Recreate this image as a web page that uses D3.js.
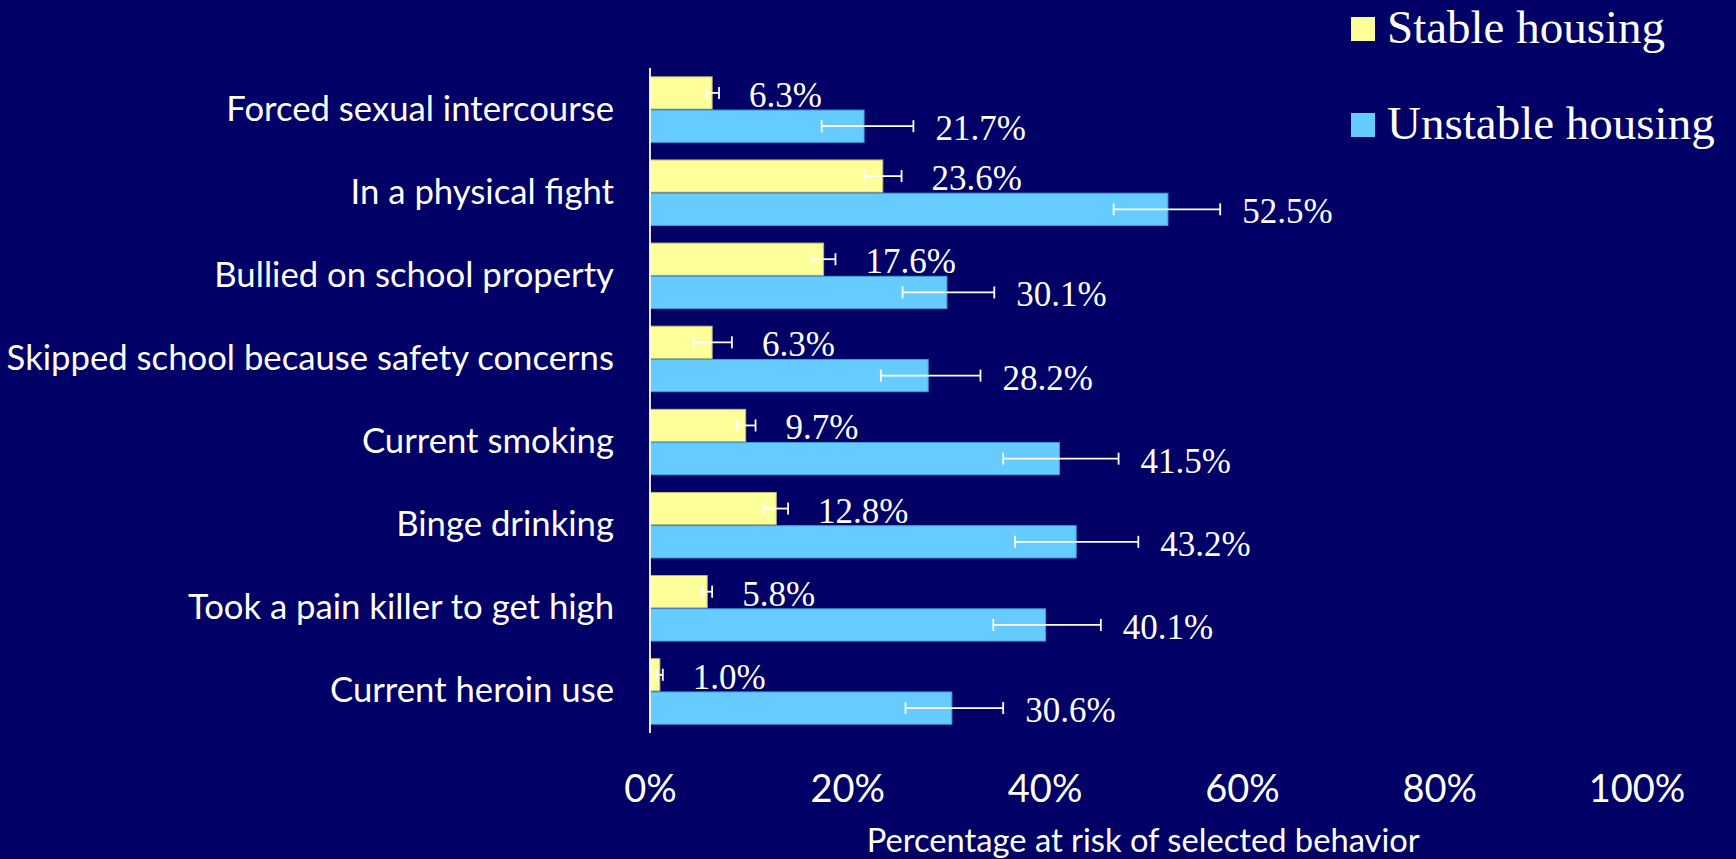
<!DOCTYPE html>
<html>
<head>
<meta charset="utf-8">
<script src="https://cdn.jsdelivr.net/npm/d3@7"></script>
<style>
  html, body { margin: 0; padding: 0; background: #000066; }
  svg { display: block; }
</style>
</head>
<body>
<svg id="chart" width="1736" height="859"></svg>
<script>
const categories = [
  "Forced sexual intercourse",
  "In a physical fight",
  "Bullied on school property",
  "Skipped school because safety concerns",
  "Current smoking",
  "Binge drinking",
  "Took a pain killer to get high",
  "Current heroin use"
];
const seriesNames = ["Stable housing", "Unstable housing"];
const stable = [6.3, 23.6, 17.6, 6.3, 9.7, 12.8, 5.8, 1.0];
const unstable = [21.7, 52.5, 30.1, 28.2, 41.5, 43.2, 40.1, 30.6];
const stableLow = [5.7, 21.8, 16.4, 4.4, 8.8, 11.5, 5.3, 0.7];
const stableHigh = [7.0, 25.5, 18.8, 8.3, 10.7, 14.0, 6.3, 1.3];
const unstableLow = [17.4, 47.0, 25.6, 23.4, 35.8, 37.0, 34.8, 25.9];
const unstableHigh = [26.7, 57.8, 34.9, 33.5, 47.5, 49.5, 45.7, 35.8];
const xTicks = [0, 20, 40, 60, 80, 100];
const xTitle = "Percentage at risk of selected behavior";

const colors = { fill: ["#FFFF99", "#66CCFF"], stroke: ["#b8b87a", "#3f9fd6"] };

const svg = d3.select("#chart");
const x = d3.scaleLinear().domain([0, 100]).range([650, 1636.5]);
const y = d3.scaleBand().domain(categories).range([68, 733]).paddingInner(0.2).paddingOuter(0.1);
const sub = d3.scaleBand().domain([0, 1]).range([0, y.bandwidth()]);

const rows = categories.map((c, i) => ({
  cat: c,
  vals: [
    { s: 0, v: stable[i], lo: stableLow[i], hi: stableHigh[i] },
    { s: 1, v: unstable[i], lo: unstableLow[i], hi: unstableHigh[i] }
  ]
}));

const g = svg.append("g");
const groups = g.selectAll("g.cat").data(rows).join("g")
  .attr("class", "cat")
  .attr("transform", d => `translate(0,${y(d.cat)})`);

groups.selectAll("rect").data(d => d.vals).join("rect")
  .attr("x", x(0))
  .attr("y", d => sub(d.s) + 0.5)
  .attr("width", d => x(d.v) - x(0))
  .attr("height", sub.bandwidth() - 1)
  .attr("fill", d => colors.fill[d.s])
  .attr("stroke", d => colors.stroke[d.s])
  .attr("stroke-width", 1);

// error bars
const eb = groups.selectAll("g.eb").data(d => d.vals).join("g").attr("class", "eb")
  .attr("stroke", "#ffffff").attr("stroke-width", 1.8);
eb.append("line")
  .attr("x1", d => x(d.lo)).attr("x2", d => x(d.hi))
  .attr("y1", d => sub(d.s) + sub.bandwidth() / 2)
  .attr("y2", d => sub(d.s) + sub.bandwidth() / 2);
eb.append("line")
  .attr("x1", d => x(d.lo)).attr("x2", d => x(d.lo))
  .attr("y1", d => sub(d.s) + sub.bandwidth() / 2 - 6)
  .attr("y2", d => sub(d.s) + sub.bandwidth() / 2 + 6);
eb.append("line")
  .attr("x1", d => x(d.hi)).attr("x2", d => x(d.hi))
  .attr("y1", d => sub(d.s) + sub.bandwidth() / 2 - 6)
  .attr("y2", d => sub(d.s) + sub.bandwidth() / 2 + 6);

// value labels
const gap = [30, 22];
groups.selectAll("text.val").data(d => d.vals).join("text")
  .attr("class", "val")
  .attr("x", d => x(d.hi) + gap[d.s])
  .attr("y", d => sub(d.s) + sub.bandwidth() / 2 + 14)
  .attr("fill", "#ffffff")
  .attr("font-family", "'Liberation Serif', 'Times New Roman', serif")
  .attr("font-size", 35)
  .text(d => d.v.toFixed(1) + "%");

// axis line
svg.append("line")
  .attr("x1", x(0)).attr("x2", x(0))
  .attr("y1", y.range()[0]).attr("y2", y.range()[1])
  .attr("stroke", "#ffffff").attr("stroke-width", 1.8);

// category labels
svg.append("g").selectAll("text").data(categories).join("text")
  .attr("x", 614)
  .attr("y", d => y(d) + y.bandwidth() / 2 + 11)
  .attr("text-anchor", "end")
  .attr("fill", "#ffffff")
  .attr("font-family", "Lato, 'Open Sans', sans-serif")
  .attr("font-size", 34.7)
  .text(d => d);

// x axis ticks
const xAxis = d3.axisBottom(x).tickValues(xTicks).tickFormat(d => d + "%").tickSize(0);
const xg = svg.append("g").attr("transform", "translate(0,772)").call(xAxis);
xg.select(".domain").remove();
xg.selectAll("text")
  .attr("fill", "#ffffff")
  .attr("font-family", "Lato, 'Open Sans', sans-serif")
  .attr("font-size", 38)
  .attr("dy", null)
  .attr("y", 30);

svg.append("text")
  .attr("x", (x(0) + x(100)) / 2)
  .attr("y", 852)
  .attr("text-anchor", "middle")
  .attr("fill", "#ffffff")
  .attr("font-family", "Lato, 'Open Sans', sans-serif")
  .attr("font-size", 32.7)
  .text(xTitle);

// legend
const lg = svg.append("g").selectAll("g").data(seriesNames).join("g")
  .attr("transform", (d, i) => `translate(1351,${17 + i * 96})`);
lg.append("rect").attr("width", 24).attr("height", 24)
  .attr("fill", (d, i) => colors.fill[i]);
lg.append("text")
  .attr("x", 36).attr("y", 26)
  .attr("fill", "#ffffff")
  .attr("font-family", "'Liberation Serif', 'Times New Roman', serif")
  .attr("font-size", 47)
  .text(d => d);
</script>
</body>
</html>
